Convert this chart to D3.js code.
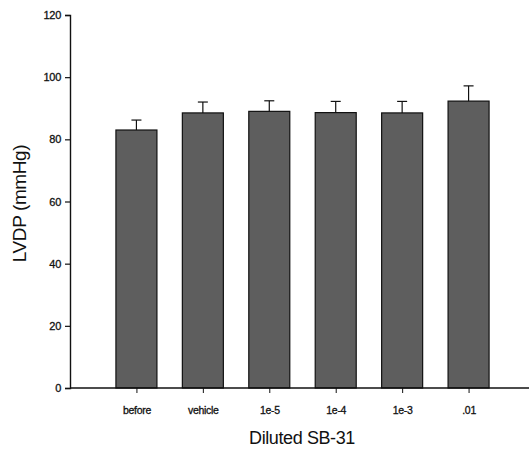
<!DOCTYPE html>
<html>
<head>
<meta charset="utf-8">
<script src="https://cdn.jsdelivr.net/npm/d3@7"></script>
<style>
  body { margin: 0; background: #fff; }
  text { font-family: "Liberation Sans", Arial, sans-serif; fill: #111; }
</style>
</head>
<body>
<div id="wrapper"></div>
<script>
const groups = ["before", "vehicle", "1e-5", "1e-4", "1e-3", ".01"];
const lvdp = [83, 88.5, 89, 88.6, 88.5, 92.3];
const sem = [3.2, 3.5, 3.4, 3.6, 3.7, 4.9];
const yTicks = [0, 20, 40, 60, 80, 100, 120];

const width = 529, height = 450;
const margin = { top: 15, right: 0, bottom: 62, left: 70 };

const svg = d3.select("#wrapper")
  .append("svg")
  .attr("width", width)
  .attr("height", height);

const x = d3.scalePoint()
  .domain(groups)
  .range([margin.left, 535])
  .padding(1);

const y = d3.scaleLinear()
  .domain([0, 120])
  .range([height - margin.bottom, margin.top]);

const barW = 41;

// bars
svg.selectAll("rect.bar")
  .data(groups)
  .enter()
  .append("rect")
  .attr("class", "bar")
  .attr("x", d => x(d) - barW / 2)
  .attr("y", (d, i) => y(lvdp[i]))
  .attr("width", barW)
  .attr("height", (d, i) => y(0) - y(lvdp[i]))
  .attr("fill", "#5e5e5e")
  .attr("stroke", "#111")
  .attr("stroke-width", 1.2);

// error bars (upper only)
const err = svg.selectAll("g.err")
  .data(groups)
  .enter()
  .append("g")
  .attr("class", "err")
  .attr("stroke", "#111")
  .attr("stroke-width", 1.2);
err.append("line")
  .attr("x1", d => x(d)).attr("x2", d => x(d))
  .attr("y1", (d, i) => y(lvdp[i]))
  .attr("y2", (d, i) => y(lvdp[i] + sem[i]));
err.append("line")
  .attr("x1", d => x(d) - 5).attr("x2", d => x(d) + 5)
  .attr("y1", (d, i) => y(lvdp[i] + sem[i]))
  .attr("y2", (d, i) => y(lvdp[i] + sem[i]));

// y axis
const yAxis = svg.append("g")
  .attr("transform", `translate(${margin.left},0)`)
  .call(d3.axisLeft(y).tickValues(yTicks).tickSize(5).tickPadding(4));
yAxis.select(".domain").attr("stroke", "#111").attr("stroke-width", 1.4);
yAxis.selectAll(".tick line").attr("stroke", "#111").attr("stroke-width", 1.2);
yAxis.selectAll(".tick text")
  .attr("font-size", 11)
  .attr("font-family", "Liberation Sans, Arial, sans-serif")
  .attr("letter-spacing", -0.3)
  .attr("fill", "#111")
  .attr("stroke", "#111")
  .attr("stroke-width", 0.3);

// x axis
const xAxis = svg.append("g")
  .attr("transform", `translate(0,${y(0)})`)
  .call(d3.axisBottom(x).tickSize(5).tickPadding(14).tickSizeOuter(0));
xAxis.select(".domain")
  .attr("d", `M${margin.left},0H${width}`)
  .attr("stroke", "#111").attr("stroke-width", 1.4);
xAxis.selectAll(".tick line").attr("stroke", "#111").attr("stroke-width", 1);
xAxis.selectAll(".tick text")
  .attr("font-size", 10.5)
  .attr("font-family", "Liberation Sans, Arial, sans-serif")
  .attr("letter-spacing", -0.3)
  .attr("fill", "#111")
  .attr("stroke", "#111")
  .attr("stroke-width", 0.3);

// titles
svg.append("text")
  .attr("transform", `translate(26,${(y(0) + y(120)) / 2 + 2}) rotate(-90)`)
  .attr("text-anchor", "middle")
  .attr("font-size", 19)
  .attr("letter-spacing", -0.4)
  .text("LVDP (mmHg)");

svg.append("text")
  .attr("x", 302)
  .attr("y", 444)
  .attr("text-anchor", "middle")
  .attr("font-size", 18)
  .attr("letter-spacing", -0.4)
  .text("Diluted SB-31");
</script>
</body>
</html>
